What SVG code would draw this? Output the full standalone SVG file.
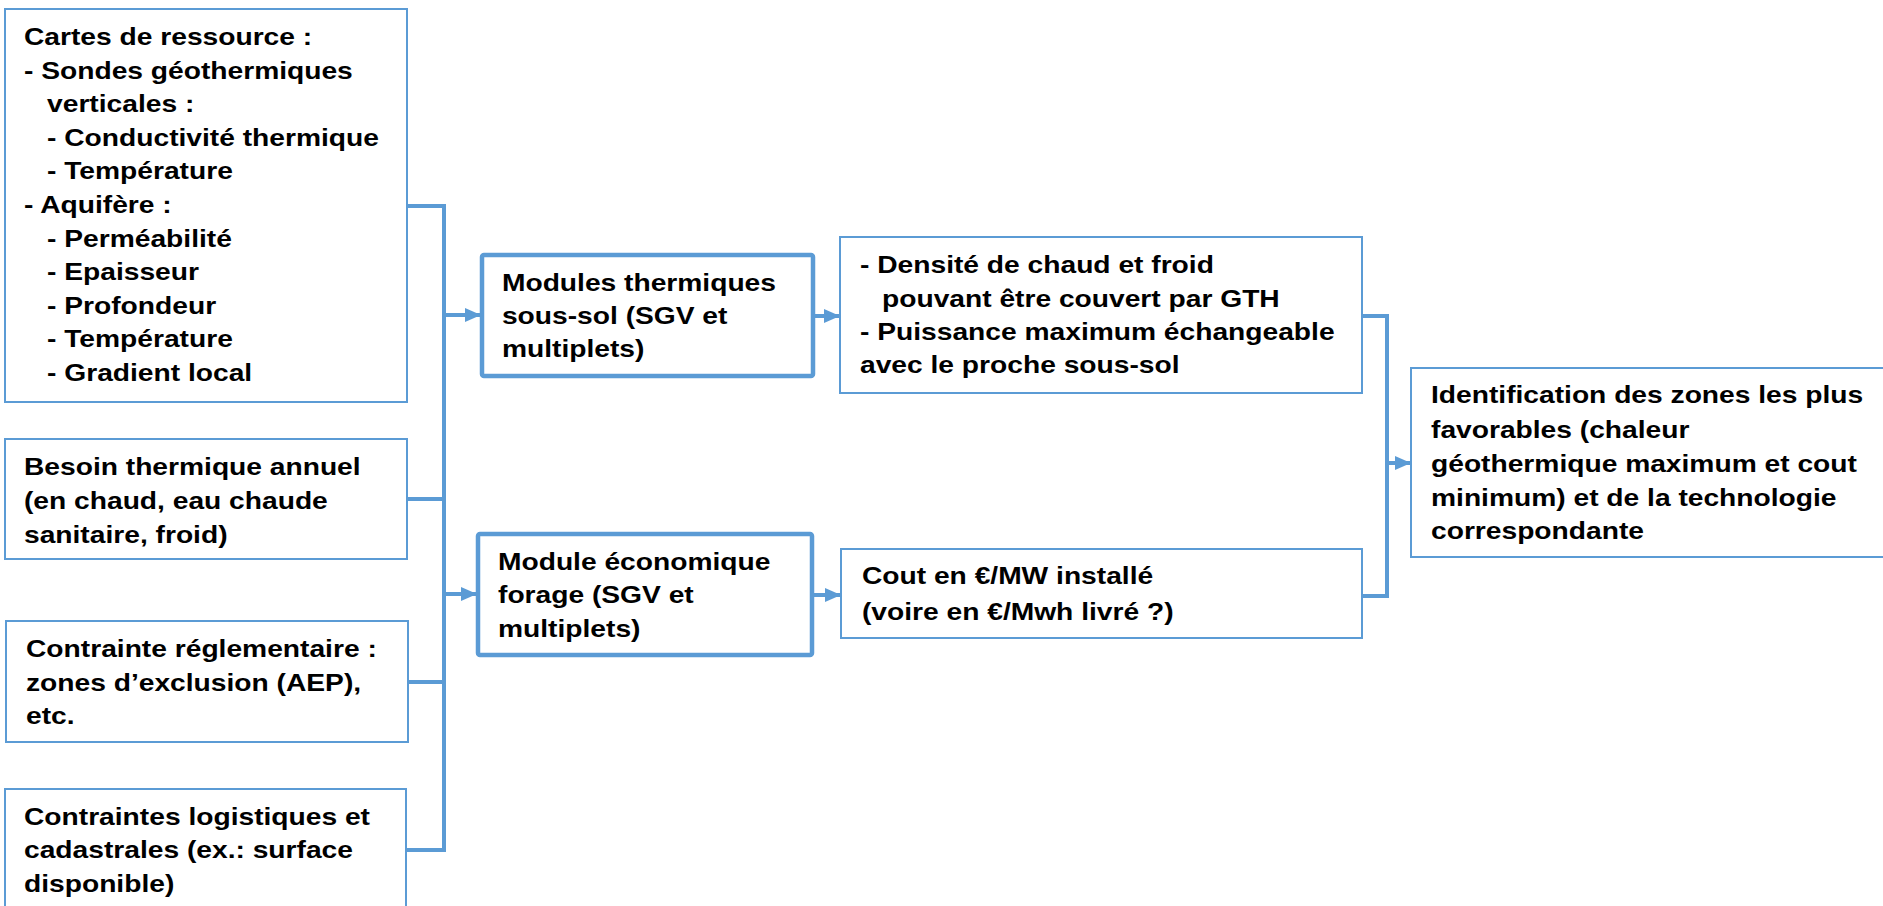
<svg xmlns="http://www.w3.org/2000/svg" width="1883" height="906" viewBox="0 0 1883 906">
<style>
.box{fill:#fff;stroke:#5B9BD5;stroke-width:2}
.mod{fill:#fff;stroke:#5B9BD5;stroke-width:4.5}
.t{font-family:"Liberation Sans",Arial,sans-serif;font-weight:bold;font-size:23.5px;fill:#000}
.c{fill:none;stroke:#5B9BD5;stroke-width:4}
</style>
<defs>
<marker id="ah" markerUnits="userSpaceOnUse" markerWidth="18" markerHeight="16" refX="16" refY="8" orient="auto">
<path d="M0,1 L16,8 L0,15 Z" fill="#5B9BD5"/>
</marker>
</defs>
<rect width="1883" height="906" fill="#fff"/>
<g id="connectors">
<path class="c" d="M407,206 H444 V850 H406"/>
<path class="c" d="M407,499 H444"/>
<path class="c" d="M408,682 H444"/>
<path class="c" d="M444,315 H481" marker-end="url(#ah)"/>
<path class="c" d="M444,594 H477" marker-end="url(#ah)"/>
<path class="c" d="M815,316 H840" marker-end="url(#ah)"/>
<path class="c" d="M813,595 H841" marker-end="url(#ah)"/>
<path class="c" d="M1362,316 H1387 V596 H1362"/>
<path class="c" d="M1387,463 H1411" marker-end="url(#ah)"/>
</g>
<g id="cartes">
<rect class="box" x="5" y="9" width="402" height="393"/>
<text class="t" transform="scale(1.2 1)">
<tspan x="20" y="45">Cartes de ressource :</tspan>
<tspan x="20" y="79">- Sondes géothermiques</tspan>
<tspan x="39.2" y="112">verticales :</tspan>
<tspan x="39.2" y="146">- Conductivité thermique</tspan>
<tspan x="39.2" y="179">- Température</tspan>
<tspan x="20" y="213">- Aquifère :</tspan>
<tspan x="39.2" y="247">- Perméabilité</tspan>
<tspan x="39.2" y="280">- Epaisseur</tspan>
<tspan x="39.2" y="314">- Profondeur</tspan>
<tspan x="39.2" y="347">- Température</tspan>
<tspan x="39.2" y="381">- Gradient local</tspan>
</text>
</g>
<g id="besoin">
<rect class="box" x="5" y="439" width="402" height="120"/>
<text class="t" transform="scale(1.2 1)">
<tspan x="20" y="475">Besoin thermique annuel</tspan>
<tspan x="20" y="509">(en chaud, eau chaude</tspan>
<tspan x="20" y="543">sanitaire, froid)</tspan>
</text>
</g>
<g id="contrainte">
<rect class="box" x="6" y="621" width="402" height="121"/>
<text class="t" transform="scale(1.2 1)">
<tspan x="21.7" y="657">Contrainte réglementaire :</tspan>
<tspan x="21.7" y="691">zones d’exclusion (AEP),</tspan>
<tspan x="21.7" y="724">etc.</tspan>
</text>
</g>
<g id="logistiques">
<rect class="box" x="5" y="789" width="401" height="140"/>
<text class="t" transform="scale(1.2 1)">
<tspan x="20" y="825">Contraintes logistiques et</tspan>
<tspan x="20" y="858">cadastrales (ex.: surface</tspan>
<tspan x="20" y="892">disponible)</tspan>
</text>
</g>
<g id="modules-thermiques">
<rect class="mod" x="482" y="255" width="331" height="121" rx="2"/>
<text class="t" transform="scale(1.2 1)">
<tspan x="418.3" y="291">Modules thermiques</tspan>
<tspan x="418.3" y="324">sous-sol (SGV et</tspan>
<tspan x="418.3" y="357">multiplets)</tspan>
</text>
</g>
<g id="module-economique">
<rect class="mod" x="478" y="534" width="334" height="121" rx="2"/>
<text class="t" transform="scale(1.2 1)">
<tspan x="415" y="570">Module économique</tspan>
<tspan x="415" y="603">forage (SGV et</tspan>
<tspan x="415" y="637">multiplets)</tspan>
</text>
</g>
<g id="densite">
<rect class="box" x="840" y="237" width="522" height="156"/>
<text class="t" transform="scale(1.2 1)">
<tspan x="716.7" y="273">- Densité de chaud et froid</tspan>
<tspan x="735" y="307">pouvant être couvert par GTH</tspan>
<tspan x="716.7" y="340">- Puissance maximum échangeable</tspan>
<tspan x="716.7" y="373">avec le proche sous-sol</tspan>
</text>
</g>
<g id="cout">
<rect class="box" x="841" y="549" width="521" height="89"/>
<text class="t" transform="scale(1.2 1)">
<tspan x="718.3" y="584">Cout en €/MW installé</tspan>
<tspan x="718.3" y="620">(voire en €/Mwh livré ?)</tspan>
</text>
</g>
<g id="identification">
<rect class="box" x="1411" y="368" width="475" height="189"/>
<text class="t" transform="scale(1.2 1)">
<tspan x="1192.5" y="403">Identification des zones les plus</tspan>
<tspan x="1192.5" y="438">favorables (chaleur</tspan>
<tspan x="1192.5" y="472">géothermique maximum et cout</tspan>
<tspan x="1192.5" y="506">minimum) et de la technologie</tspan>
<tspan x="1192.5" y="539">correspondante</tspan>
</text>
</g>
</svg>
